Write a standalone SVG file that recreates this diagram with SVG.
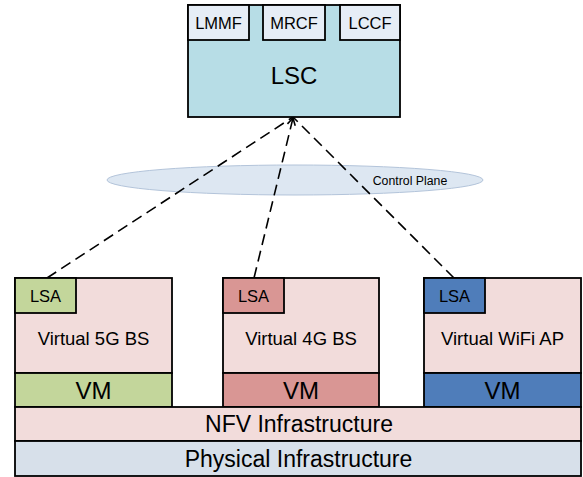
<svg xmlns="http://www.w3.org/2000/svg" width="583" height="477" viewBox="0 0 583 477">
  <style>
    .box { stroke: #000; stroke-width: 1.8; }
    .t { font-family: "Liberation Sans", Arial, sans-serif; fill: #000; text-anchor: middle; }
    .link { stroke: #000; stroke-width: 1.6; stroke-dasharray: 11 6; fill: none; }
    .pink { fill: #f2dcdb; }
    .green { fill: #c3d69b; }
    .red { fill: #d99694; }
    .blue { fill: #4f7dba; }
  </style>
  <defs>
    <marker id="openArrow" markerWidth="10" markerHeight="10" refX="8" refY="5" orient="auto" markerUnits="userSpaceOnUse">
      <path d="M1,1 L8,5 L1,9" fill="none" stroke="#000" stroke-width="1.6"/>
    </marker>
  </defs>

  <!-- control plane layer -->
  <g id="control-plane">
    <ellipse cx="295" cy="180" rx="188" ry="15" fill="#dde7f2" stroke="#b3c4da" stroke-width="1"/>
    <text class="t" x="410" y="185" font-size="12.3">Control Plane</text>
  </g>

  <!-- connectors -->
  <g id="connectors">
    <line class="link" x1="47" y1="278" x2="293" y2="117"/>
    <line class="link" x1="254" y1="278" x2="293" y2="118" marker-end="url(#openArrow)"/>
    <line class="link" x1="454" y1="278" x2="293" y2="117"/>
  </g>

  <!-- controller -->
  <g id="lsc">
    <rect class="box" x="188" y="5" width="212" height="112" fill="#b7dde6"/>
    <text class="t" x="294" y="84" font-size="24">LSC</text>
  </g>
  <g id="lmmf">
    <rect class="box" x="188" y="5" width="61" height="35" fill="#e6edf6"/>
    <text class="t" x="218.5" y="29" font-size="16.5">LMMF</text>
  </g>
  <g id="mrcf">
    <rect class="box" x="263" y="5" width="62" height="35" fill="#e6edf6"/>
    <text class="t" x="294" y="29" font-size="16.5">MRCF</text>
  </g>
  <g id="lccf">
    <rect class="box" x="340" y="5" width="60" height="35" fill="#e6edf6"/>
    <text class="t" x="370" y="29" font-size="16.5">LCCF</text>
  </g>

  <!-- Virtual 5G BS -->
  <g id="v5g">
    <rect class="box pink" x="15" y="278" width="157" height="95"/>
    <text class="t" x="93.5" y="345" font-size="18.5">Virtual 5G BS</text>
  </g>
  <g id="lsa-5g">
    <rect class="box green" x="15" y="278" width="61" height="35"/>
    <text class="t" x="45.5" y="302" font-size="16.5">LSA</text>
  </g>
  <g id="vm-5g">
    <rect class="box green" x="15" y="373" width="157" height="34"/>
    <text class="t" x="93.5" y="399" font-size="24">VM</text>
  </g>

  <!-- Virtual 4G BS -->
  <g id="v4g">
    <rect class="box pink" x="223" y="278" width="156" height="95"/>
    <text class="t" x="301" y="345" font-size="18.5">Virtual 4G BS</text>
  </g>
  <g id="lsa-4g">
    <rect class="box red" x="223" y="278" width="61" height="35"/>
    <text class="t" x="253.5" y="302" font-size="16.5">LSA</text>
  </g>
  <g id="vm-4g">
    <rect class="box red" x="223" y="373" width="156" height="34"/>
    <text class="t" x="301" y="399" font-size="24">VM</text>
  </g>

  <!-- Virtual WiFi AP -->
  <g id="vwifi">
    <rect class="box pink" x="424" y="278" width="157" height="95"/>
    <text class="t" x="502.5" y="345" font-size="18.5">Virtual WiFi AP</text>
  </g>
  <g id="lsa-wifi">
    <rect class="box blue" x="424" y="278" width="61" height="35"/>
    <text class="t" x="454.5" y="302" font-size="16.5">LSA</text>
  </g>
  <g id="vm-wifi">
    <rect class="box blue" x="424" y="373" width="157" height="34"/>
    <text class="t" x="502.5" y="399" font-size="24">VM</text>
  </g>

  <!-- infrastructure layers -->
  <g id="nfv">
    <rect class="box pink" x="15" y="407" width="566" height="34"/>
    <text class="t" x="299" y="432" font-size="23">NFV Infrastructure</text>
  </g>
  <g id="physical">
    <rect class="box" x="15" y="441" width="566" height="35" fill="#d7e0ea"/>
    <text class="t" x="298.5" y="467" font-size="23">Physical Infrastructure</text>
  </g>
</svg>
